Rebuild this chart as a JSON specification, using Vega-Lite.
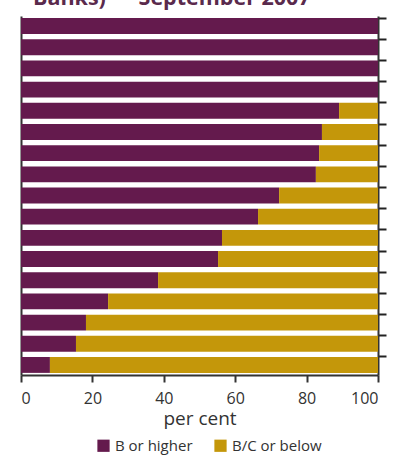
{
  "$schema": "https://vega.github.io/schema/vega-lite/v6.json",
  "autosize": "none",
  "width": 357,
  "height": 359,
  "padding": {"left": 21, "top": 16, "right": 16, "bottom": 80},
  "background": "white",
  "config": {
    "font": "Open Sans",
    "view": {"stroke": null}
  },
  "title": {
    "text": "Banks) — September 2007",
    "anchor": "start",
    "frame": "group",
    "baseline": "alphabetic",
    "offset": 0,
    "dx": 12,
    "dy": 10,
    "fontSize": 21.5,
    "fontWeight": "bold",
    "color": "#5a2a4c",
    "font": "Open Sans"
  },
  "data": {
    "values": [
      {"bank": 1, "b_higher": 100},
      {"bank": 2, "b_higher": 100},
      {"bank": 3, "b_higher": 100},
      {"bank": 4, "b_higher": 100},
      {"bank": 5, "b_higher": 89.1},
      {"bank": 6, "b_higher": 84.3},
      {"bank": 7, "b_higher": 83.5},
      {"bank": 8, "b_higher": 82.6},
      {"bank": 9, "b_higher": 72.3},
      {"bank": 10, "b_higher": 66.4},
      {"bank": 11, "b_higher": 56.3},
      {"bank": 12, "b_higher": 55.2},
      {"bank": 13, "b_higher": 38.4},
      {"bank": 14, "b_higher": 24.4},
      {"bank": 15, "b_higher": 18.2},
      {"bank": 16, "b_higher": 15.4},
      {"bank": 17, "b_higher": 8.1}
    ]
  },
  "transform": [
    {"calculate": "100 - datum.b_higher", "as": "bc_below"},
    {"fold": ["b_higher", "bc_below"], "as": ["cat", "value"]},
    {"calculate": "datum.cat == 'b_higher' ? 'B or higher' : 'B/C or below'", "as": "category"},
    {"calculate": "datum.cat == 'b_higher' ? 0 : 1", "as": "order"}
  ],
  "layer": [
    {
      "mark": {"type": "bar"},
      "encoding": {
        "y": {
          "field": "bank",
          "type": "ordinal",
          "sort": "ascending",
          "scale": {"paddingInner": 0.25, "paddingOuter": 0.1},
          "axis": {
            "orient": "left",
            "labels": false,
            "ticks": false,
            "title": null,
            "domainColor": "#333333",
            "domainWidth": 2
          }
        },
        "x": {
          "field": "value",
          "type": "quantitative",
          "stack": "zero",
          "scale": {"domain": [0, 100], "nice": false},
          "axis": {
            "values": [0, 20, 40, 60, 80, 100],
            "grid": false,
            "domainColor": "#333333",
            "domainWidth": 2,
            "tickColor": "#333333",
            "tickWidth": 2,
            "tickSize": 7,
            "labelFontSize": 16,
            "labelColor": "#333333",
            "labelPadding": 8,
            "labelFont": "Open Sans",
            "title": "per cent",
            "titleFontSize": 19,
            "titleFontWeight": "normal",
            "titleColor": "#333333",
            "titlePadding": 3,
            "titleFont": "Open Sans"
          }
        },
        "color": {
          "field": "category",
          "type": "nominal",
          "scale": {"domain": ["B or higher", "B/C or below"], "range": ["#641a4d", "#c4970a"]},
          "legend": {
            "orient": "none",
            "legendX": 75,
            "legendY": 422,
            "direction": "horizontal",
            "title": null,
            "symbolType": "square",
            "symbolSize": 150,
            "symbolStrokeWidth": 0,
            "labelFontSize": 15,
            "labelColor": "#333333",
            "labelFont": "Open Sans",
            "columnPadding": 20
          }
        },
        "order": {"field": "order", "type": "quantitative"}
      }
    },
    {
      "mark": {"type": "bar", "opacity": 0},
      "encoding": {
        "y": {
          "field": "bank",
          "type": "ordinal",
          "sort": "ascending",
          "axis": {
            "orient": "right",
            "labels": false,
            "title": null,
            "bandPosition": 0,
            "domainColor": "#333333",
            "domainWidth": 2,
            "tickColor": "#222222",
            "tickWidth": 2,
            "tickSize": 8
          }
        },
        "x": {"field": "value", "type": "quantitative", "stack": "zero"}
      }
    }
  ],
  "resolve": {"axis": {"y": "independent"}}
}
